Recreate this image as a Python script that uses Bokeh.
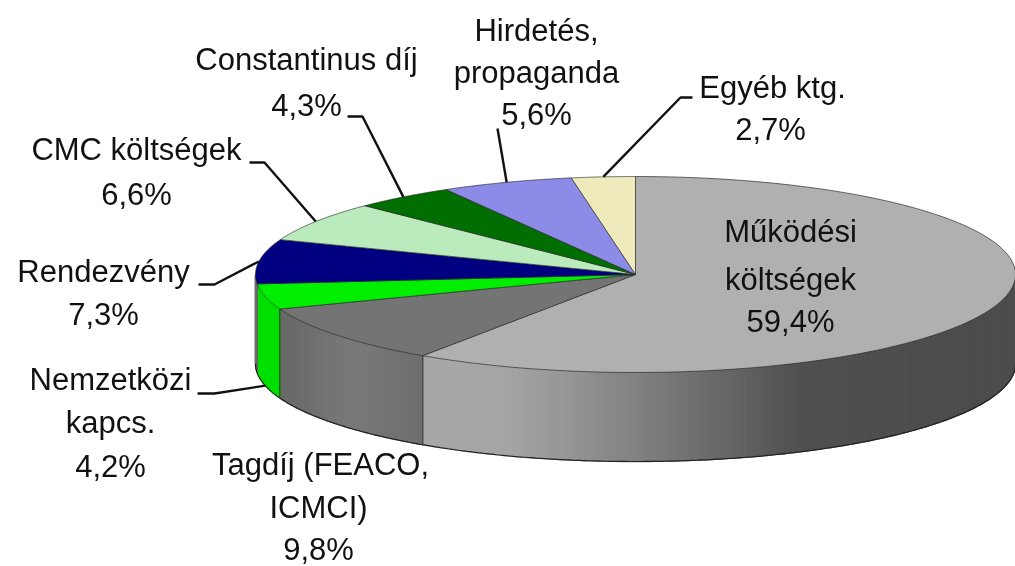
import numpy as np
from bokeh.plotting import figure
from bokeh.models import Range1d, ColumnDataSource
from bokeh.core.properties import value
from bokeh.embed import file_html
from bokeh.resources import INLINE

# --- data ---
categories = ["Működési költségek", "Tagdíj (FEACO, ICMCI)", "Nemzetközi kapcs.", "Rendezvény",
              "CMC költségek", "Constantinus díj", "Hirdetés, propaganda", "Egyéb ktg."]
shares = [59.4, 9.8, 4.2, 7.3, 6.6, 4.3, 5.6, 2.7]

# --- style ---
top_colors = ["#b0b0b0", "#747474", "#00ee00", "#000080", "#b9ebbd", "#006e00", "#8c8ce8", "#eeeabb"]
wall_stops = [
    ([424, 500, 560, 640, 720, 800, 1015], [0xa8, 0xa6, 0x98, 0x80, 0x68, 0x50, 0x4c]),
    ([280, 350, 424], [0x68, 0x7a, 0x6e]),
]
wall_green = "#00e000"
wall_navy = "#666666"

# --- layout (pixels) ---
W, H = 1015, 566
CX, CY, RX, RY, DEPTH = 635.0, 274.0, 380.0, 98.0, 89.0
FONT_SIZE = "31px"
# text, centre x, centre y
line_text = ["Működési", "költségek", "59,4%",
             "Tagdíj (FEACO,", "ICMCI)", "9,8%",
             "Nemzetközi", "kapcs.", "4,2%",
             "Rendezvény", "7,3%",
             "CMC költségek", "6,6%",
             "Constantinus díj", "4,3%",
             "Hirdetés,", "propaganda", "5,6%",
             "Egyéb ktg.", "2,7%"]
line_x = [790, 790, 790, 320, 318, 318, 110, 110, 110, 103, 103, 136, 136, 306, 306, 536, 536, 536, 772, 770]
line_y = [231, 279, 321, 464, 507, 549, 379, 422, 466, 271, 314, 149, 194, 59, 105, 30, 72, 114, 87, 129]
# slice index -> leader points starting at the label (pie end is computed)
leader_start = {
    2: [(197, 393), (214, 393)],
    3: [(198, 284), (214, 284)],
    4: [(249, 162), (264, 162)],
    5: [(347, 116), (362, 116)],
    6: [(497, 128)],
    7: [(692, 97), (680, 97)],
}

# --- geometry from values ---
vals = np.array(shares, dtype=float)
edges = np.concatenate([[0.0], np.cumsum(vals) / vals.sum() * 2 * np.pi])


def ex(a):
    return CX + RX * np.sin(a)


def ey(a):
    return CY - RY * np.cos(a)


p = figure(width=W, height=H, x_range=Range1d(0, W), y_range=Range1d(H, 0),
           output_backend="svg", toolbar_location=None, min_border=0)
p.axis.visible = False
p.grid.visible = False
p.outline_line_color = None
p.background_fill_color = "white"
p.border_fill_color = "white"
p.styles = {"position": "fixed", "left": "0", "top": "0"}

# walls: only the front half (angles 90..270 deg) is visible
wx, wy, wc = [], [], []
for i in range(len(vals)):
    a0, a1 = max(edges[i], np.pi / 2), min(edges[i + 1], 3 * np.pi / 2)
    if a1 <= a0:
        continue
    n = max(2, int((a1 - a0) / np.radians(1.0)))
    t = np.linspace(a0, a1, n + 1)
    for u, v in zip(t[:-1], t[1:]):
        xs = [ex(u), ex(v), ex(v), ex(u)]
        ys = [ey(u), ey(v), ey(v) + DEPTH, ey(u) + DEPTH]
        if i < len(wall_stops):
            g = int(np.interp((xs[0] + xs[1]) / 2, *wall_stops[i]))
            col = f"#{g:02x}{g:02x}{g:02x}"
        else:
            col = wall_green if i == 2 else wall_navy
        wx.append(xs); wy.append(ys); wc.append(col)
p.patches("x", "y", source=ColumnDataSource(dict(x=wx, y=wy, c=wc)), fill_color="c", line_color="c", line_width=1.4)

# wall outlines
t = np.linspace(np.pi / 2, 3 * np.pi / 2, 400)
p.line(ex(t), ey(t) + DEPTH, line_color="#222222", line_width=1.2)
p.line([ex(np.pi * 3 / 2)] * 2, [ey(np.pi * 3 / 2), ey(np.pi * 3 / 2) + DEPTH], line_color="#707070", line_width=1.5)
for i, col in [(1, "#4a4a4a"), (2, "#333333")]:
    a = edges[i]
    p.line([ex(a), ex(a)], [ey(a), ey(a) + DEPTH], line_color=col, line_width=1.2)

# top face
tx, ty = [], []
for i in range(len(vals)):
    t = np.linspace(edges[i], edges[i + 1], 120)
    tx.append([CX] + list(ex(t)))
    ty.append([CY] + list(ey(t)))
p.patches("x", "y", source=ColumnDataSource(dict(x=tx, y=ty, c=top_colors)),
          fill_color="c", line_color="#2a2a2a", line_width=0.8, line_alpha=0.85)

# leaders
mid = (edges[:-1] + edges[1:]) / 2
for i, pts in leader_start.items():
    lx = [q[0] for q in pts] + [ex(mid[i])]
    ly = [q[1] for q in pts] + [ey(mid[i]) + (DEPTH if i == 2 else 0)]
    p.line(lx, ly, line_color="#111111", line_width=2.4)

# labels
p.text(line_x, line_y, text=line_text, text_font=value("Liberation Sans"), text_font_size=value(FONT_SIZE),
       text_align="center", text_baseline="middle", text_color="#111111")

open("out.html", "w").write(file_html(p, INLINE))
